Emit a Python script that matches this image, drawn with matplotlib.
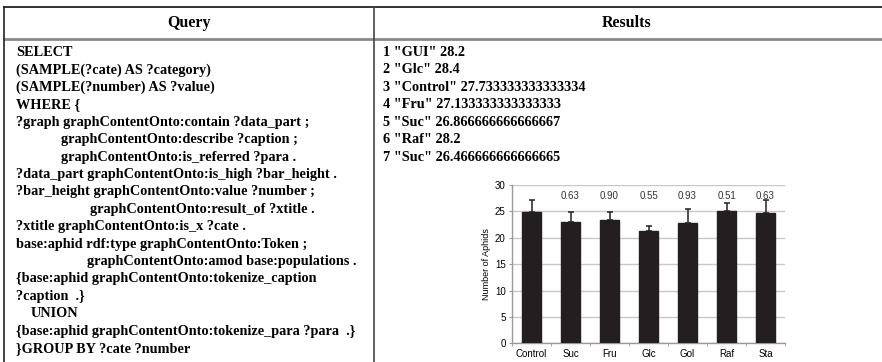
import matplotlib
matplotlib.use("Agg")
import matplotlib.pyplot as plt
import numpy as np

# --- table content -------------------------------------------------------
headers = ["Query", "Results"]

query_lines = [
    "SELECT",
    "(SAMPLE(?cate) AS ?category)",
    "(SAMPLE(?number) AS ?value)",
    "WHERE {",
    "?graph graphContentOnto:contain ?data_part ;",
    "graphContentOnto:describe ?caption ;",
    "graphContentOnto:is_referred ?para .",
    "?data_part graphContentOnto:is_high ?bar_height .",
    "?bar_height graphContentOnto:value ?number ;",
    "graphContentOnto:result_of ?xtitle .",
    "?xtitle graphContentOnto:is_x ?cate .",
    "base:aphid rdf:type graphContentOnto:Token ;",
    "graphContentOnto:amod base:populations .",
    "{base:aphid graphContentOnto:tokenize_caption",
    "?caption  .}",
    "UNION",
    "{base:aphid graphContentOnto:tokenize_para ?para  .}",
    "}GROUP BY ?cate ?number",
]
query_indent = [0, 0, 0, 0, 0, 45, 45, 0, 0, 74, 0, 0, 71, 0, 0, 15, 0, 0]

result_names = ["GUI", "Glc", "Control", "Fru", "Suc", "Raf", "Suc"]
result_values = ["28.2", "28.4", "27.733333333333334", "27.133333333333333",
                 "26.866666666666667", "28.2", "26.466666666666665"]

# --- embedded bar chart --------------------------------------------------
categories = ["Control", "Suc", "Fru", "Glc", "Gol", "Raf", "Sta"]
means = [24.8, 23.05, 23.35, 21.35, 22.75, 25.0, 24.6]
errors = [2.4, 1.9, 1.55, 0.95, 2.7, 1.65, 2.5]
p_labels = ["", "0.63", "0.90", "0.55", "0.93", "0.51", "0.63"]

W, H = 882, 362
fig = plt.figure(figsize=(W / 100, H / 100), dpi=100)

# background axes in pixel coordinates for the table
bg = fig.add_axes([0, 0, 1, 1])
bg.set_xlim(0, W)
bg.set_ylim(H, 0)
bg.axis("off")

serif = "Liberation Serif"
bg.plot([4, W], [7, 7], color="#222222", lw=1.3)
bg.plot([4, W], [38.5, 38.5], color="#8a8a8a", lw=2.0)
bg.plot([4, 4], [7, H], color="#222222", lw=1.2)
bg.plot([373.5, 373.5], [7, H], color="#444444", lw=1.2)

bg.text(188.5, 27, headers[0], ha="center", va="baseline",
        family=serif, weight="bold", fontsize=11.5)
bg.text(627, 27, headers[1], ha="center", va="baseline",
        family=serif, weight="bold", fontsize=11.5)

line_h = 17.42
fs = 10.3
for i, (txt, ind) in enumerate(zip(query_lines, query_indent)):
    bg.text(16 + ind, 56 + i * line_h, txt, ha="left", va="baseline",
            family=serif, weight="bold", fontsize=fs)

for i, (name, val) in enumerate(zip(result_names, result_values)):
    bg.text(383, 56 + i * line_h, f'{i + 1} "{name}" {val}', ha="left",
            va="baseline", family=serif, weight="bold", fontsize=fs)

# chart axes
ax = fig.add_axes([512 / W, 1 - 343.3 / H, (785 - 512) / W, (343.3 - 185) / H])
x = np.arange(len(categories))
ax.bar(x, means, width=0.5, color="#231f20", edgecolor="#231f20", zorder=3)
ax.errorbar(x, means, yerr=[np.zeros(len(errors)), errors], fmt="none",
            ecolor="#231f20", elinewidth=1.1, capsize=2.0, capthick=1.1, zorder=4)
for xi, lab in zip(x, p_labels):
    if lab:
        ax.text(xi, 27.9, lab, ha="center", va="center", fontsize=7,
                family="Liberation Sans", color="#333333")

ax.set_xlim(-0.5, len(categories) - 0.5)
ax.set_ylim(0, 30)
ax.set_yticks(range(0, 31, 5))
ax.yaxis.grid(True, color="#c8c8c8", lw=1.0, zorder=0)
ax.set_axisbelow(True)
ax.set_xticks(x)
ax.set_xticklabels(categories, family="Liberation Sans", fontsize=7)
ax.set_xticks(np.arange(-0.5, len(categories)), minor=True)
ax.tick_params(axis="x", which="major", length=0, pad=4)
ax.tick_params(axis="x", which="minor", length=2, color="#999999")
ax.tick_params(axis="y", length=2.5, color="#999999", labelsize=7, pad=2)
for lab in ax.get_yticklabels():
    lab.set_family("Liberation Sans")
ax.set_ylabel("Number of Aphids", family="Liberation Sans", fontsize=6.5, labelpad=3)
for s in ["top", "right"]:
    ax.spines[s].set_visible(False)
for s in ["left", "bottom"]:
    ax.spines[s].set_color("#999999")
    ax.spines[s].set_linewidth(1.0)

fig.savefig("out.png", dpi=100)
